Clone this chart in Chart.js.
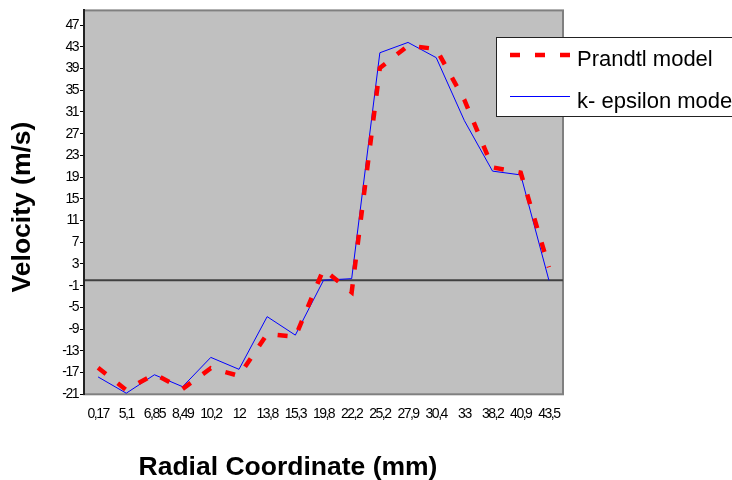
<!DOCTYPE html>
<html>
<head>
<meta charset="utf-8">
<script src="https://cdn.jsdelivr.net/npm/chart.js@4.4.1/dist/chart.umd.min.js"></script>
<style>
  body { margin: 0; background: #fff; }
</style>
</head>
<body>
<canvas id="velocityChart" width="732" height="480"></canvas>
<script>
// Values
const radialLabels = ["0,17", "5,1", "6,85", "8,49", "10,2", "12", "13,8", "15,3", "19,8",
                      "22,2", "25,2", "27,9", "30,4", "33", "38,2", "40,9", "43,5"];
const prandtlValues = [-16.1, -20.2, -17.3, -20.0, -16.2, -17.6, -9.9, -10.4, 2.0,
                       -2.2, 39.1, 43.2, 42.6, 33.2, 20.8, 19.8, 2.4];
const kEpsilonValues = [-17.8, -20.8, -17.4, -19.6, -14.2, -16.4, -6.7, -10.1, 0.0,
                        0.3, 41.9, 43.8, 41.0, 29.4, 20.1, 19.4, 0.0];
const velocityTicks = [-21, -17, -13, -9, -5, -1, 3, 7, 11, 15, 19, 23, 27, 31, 35, 39, 43, 47];
const seriesNames = ["Prandtl model", "k- epsilon model"];
const xTitle = "Radial Coordinate (mm)";
const yTitle = "Velocity (m/s)";

const tickFont = { family: '"Liberation Sans", Arial, sans-serif', size: 14 };

// Grey plot area, frame and the zero line, drawn under the series.
// Tick labels in the original are squeezed, so tighten letter spacing
// while the scales draw and reset it before the lines.
const plotFrame = {
    id: "plotFrame",
    beforeDraw(chart) {
        const { ctx, chartArea: a, scales } = chart;
        ctx.save();
        ctx.fillStyle = "#c0c0c0";
        ctx.fillRect(a.left, a.top, a.right - a.left, a.bottom - a.top);
        ctx.strokeStyle = "#808080";
        ctx.lineWidth = 2;
        ctx.strokeRect(a.left, a.top, a.right - a.left, a.bottom - a.top);
        const y0 = scales.y.getPixelForValue(0);
        ctx.strokeStyle = "#404040";
        ctx.lineWidth = 2;
        ctx.beginPath();
        ctx.moveTo(a.left, y0);
        ctx.lineTo(a.right, y0);
        ctx.stroke();
        ctx.restore();
        ctx.letterSpacing = "-1.5px";
    },
    beforeDatasetsDraw(chart) {
        chart.ctx.letterSpacing = "0px";
    }
};

// Axis titles and the boxed legend on the right
const titlesAndLegend = {
    id: "titlesAndLegend",
    afterDraw(chart) {
        const ctx = chart.ctx;
        ctx.save();
        ctx.letterSpacing = "0px";
        ctx.fillStyle = "#000";
        ctx.font = 'bold 26.5px "Liberation Sans", Arial, sans-serif';
        ctx.textAlign = "center";
        ctx.textBaseline = "alphabetic";
        ctx.fillText(xTitle, 288, 475);

        ctx.translate(30, 207);
        ctx.rotate(-Math.PI / 2);
        ctx.fillText(yTitle, 0, 0);
        ctx.restore();

        // legend box
        ctx.save();
        ctx.letterSpacing = "0px";
        ctx.fillStyle = "#fff";
        ctx.fillRect(496, 37, 250, 79);
        ctx.strokeStyle = "#222";
        ctx.lineWidth = 1;
        ctx.strokeRect(496.5, 37.5, 250, 79);

        const rows = [55, 96.5];
        chart.data.datasets.forEach((ds, i) => {
            ctx.strokeStyle = ds.borderColor;
            ctx.lineWidth = ds.borderWidth;
            ctx.setLineDash(ds.borderDash || []);
            ctx.beginPath();
            ctx.moveTo(510, rows[i]);
            ctx.lineTo(570, rows[i]);
            ctx.stroke();
            ctx.setLineDash([]);
            ctx.fillStyle = "#000";
            ctx.font = '22px "Liberation Sans", Arial, sans-serif';
            ctx.textAlign = "left";
            ctx.textBaseline = "alphabetic";
            ctx.fillText(ds.label, 577, rows[i] + 11);
        });
        ctx.restore();
    }
};

const ctx = document.getElementById("velocityChart").getContext("2d");
new Chart(ctx, {
    type: "line",
    data: {
        labels: radialLabels,
        datasets: [{
            label: seriesNames[0],
            data: prandtlValues,
            borderColor: "#ff0000",
            borderWidth: 4.5,
            borderDash: [10, 15],
            borderCapStyle: "butt",
            pointRadius: 0,
            tension: 0,
            fill: false
        }, {
            label: seriesNames[1],
            data: kEpsilonValues,
            borderColor: "#0000ff",
            borderWidth: 1,
            pointRadius: 0,
            tension: 0,
            fill: false
        }]
    },
    options: {
        responsive: false,
        animation: false,
        layout: { padding: { left: 0, top: 9.5, right: 169, bottom: 0 } },
        plugins: {
            legend: { display: false },
            tooltip: { enabled: false }
        },
        scales: {
            x: {
                offset: true,
                grid: { display: false, drawTicks: false },
                border: { display: false },
                ticks: {
                    autoSkip: false,
                    maxRotation: 0,
                    minRotation: 0,
                    padding: 11,
                    color: "#000",
                    font: tickFont
                },
                afterFit(scale) { scale.height = 85.7; }
            },
            y: {
                min: -21,
                max: 49.7,
                afterBuildTicks(scale) {
                    scale.ticks = velocityTicks.map(v => ({ value: v }));
                },
                grid: {
                    drawOnChartArea: false,
                    drawTicks: true,
                    tickLength: 4,
                    color: "#000",
                    lineWidth: 1
                },
                border: { display: true, color: "#222", width: 2 },
                ticks: {
                    padding: 2,
                    color: "#000",
                    font: tickFont
                },
                afterFit(scale) { scale.width = 84; }
            }
        }
    },
    plugins: [plotFrame, titlesAndLegend]
});
</script>
</body>
</html>
